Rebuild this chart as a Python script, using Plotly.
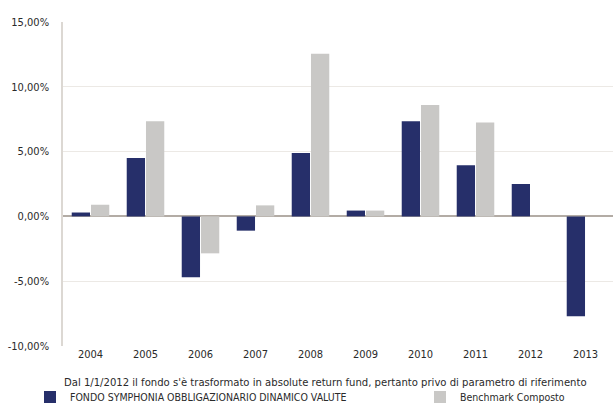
import plotly.graph_objects as go

years = ["2004", "2005", "2006", "2007", "2008", "2009", "2010", "2011", "2012", "2013"]
fondo = [0.3, 4.5, -4.7, -1.1, 4.9, 0.45, 7.35, 3.95, 2.5, -7.7]
benchmark = [0.9, 7.35, -2.85, 0.85, 12.55, 0.45, 8.6, 7.25, None, None]
y_ticks = [-10, -5, 0, 5, 10, 15]
y_labels = ["-10,00%", "-5,00%", "0,00%", "5,00%", "10,00%", "15,00%"]
note = "Dal 1/1/2012 il fondo s'è trasformato in absolute return fund, pertanto privo di parametro di riferimento"

FONT = "Liberation Sans Narrow, DejaVu Sans Condensed, sans-serif"
y_range = [-10, 15]
H = 413
TOP, BOTTOM = 22, 67
plot_h = H - TOP - BOTTOM

fig = go.Figure()
fig.add_trace(go.Bar(x=years, y=fondo, name="FONDO SYMPHONIA OBBLIGAZIONARIO DINAMICO VALUTE",
                     marker=dict(color="#262f6a", line=dict(width=0)), legend="legend"))
fig.add_trace(go.Bar(x=years, y=benchmark, name="Benchmark Composto",
                     marker=dict(color="#c9c8c6", line=dict(width=0)), legend="legend2"))

zero_pos = (0 - y_range[0]) / (y_range[1] - y_range[0])
legend_style = dict(orientation="h", xref="container", yref="container", yanchor="middle",
                    xanchor="left", y=1 - 397 / H, font=dict(size=10.5, color="#2a2a2a"),
                    itemwidth=30, bgcolor="rgba(0,0,0,0)")

fig.update_layout(
    width=614, height=H,
    margin=dict(l=63, r=1, t=TOP, b=BOTTOM),
    paper_bgcolor="white", plot_bgcolor="white",
    barmode="group", bargap=0.3, bargroupgap=0.05,
    font=dict(family=FONT, size=11, color="#2a2a2a"),
    showlegend=True,
    legend=dict(legend_style, x=30 / 614),
    legend2=dict(legend_style, x=420 / 614),
    xaxis=dict(type="category", showgrid=False, showline=False, ticks="",
               tickfont=dict(size=11), ticklabelstandoff=0),
    xaxis2=dict(overlaying="x", anchor="free", position=zero_pos, range=[-0.5, 9.5],
                tickmode="linear", tick0=0.5, dtick=1, ticks="outside", ticklen=5,
                tickcolor="#a9a39d", showticklabels=False, showgrid=False,
                showline=False, zeroline=False),
    yaxis=dict(range=y_range, tickvals=y_ticks, ticktext=y_labels,
               showgrid=True, gridcolor="#ece9e5", gridwidth=1,
               zeroline=True, zerolinecolor="#b3aca5", zerolinewidth=1.5,
               showline=True, linecolor="#dcd8d3", linewidth=1.5,
               tickfont=dict(size=11), ticklabelstandoff=10),
    annotations=[dict(text=note, xref="paper", yref="paper", x=-0.002,
                      y=-(382 - (H - BOTTOM)) / plot_h,
                      xanchor="left", yanchor="middle", showarrow=False,
                      font=dict(size=11.2, color="#2a2a2a"))],
)

fig.write_html("out.html")
